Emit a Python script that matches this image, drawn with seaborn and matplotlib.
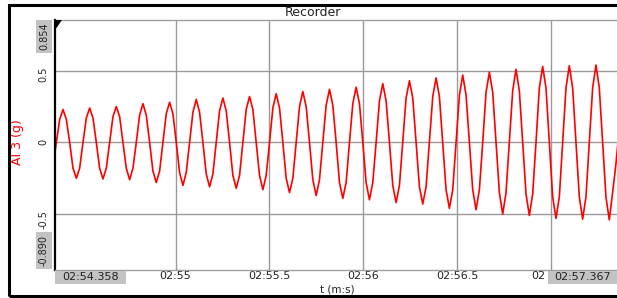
# Recorder trace: AI 3 (g) vs time
import numpy as np
import matplotlib
matplotlib.use("Agg")
import matplotlib.pyplot as plt
from matplotlib.patches import Rectangle, Polygon
import seaborn as sns

# sampled trace (seconds since 00:00, fixed sample interval)
t_start = 174.3474
sample_dt = 0.01774
ai3 = [-0.17,
       0.00, 0.16, 0.23, 0.16, 0.00, -0.18, -0.25, -0.18,
       0.00, 0.17, 0.24, 0.17, 0.00, -0.18, -0.255, -0.18,
       0.00, 0.18, 0.25, 0.18, 0.00, -0.18, -0.26, -0.18,
       0.00, 0.19, 0.27, 0.19, 0.00, -0.20, -0.28, -0.20,
       0.00, 0.20, 0.28, 0.20, 0.00, -0.21, -0.30, -0.21,
       0.00, 0.21, 0.30, 0.21, 0.00, -0.22, -0.31, -0.22,
       0.00, 0.22, 0.31, 0.22, 0.00, -0.23, -0.32, -0.23,
       0.00, 0.23, 0.32, 0.23, 0.00, -0.23, -0.33, -0.23,
       0.00, 0.24, 0.34, 0.24, 0.00, -0.25, -0.35, -0.25,
       0.00, 0.25, 0.355, 0.25, 0.00, -0.26, -0.37, -0.26,
       0.00, 0.26, 0.37, 0.26, 0.00, -0.28, -0.39, -0.28,
       0.00, 0.27, 0.385, 0.27, 0.00, -0.28, -0.40, -0.28,
       0.00, 0.29, 0.41, 0.29, 0.00, -0.30, -0.42, -0.30,
       0.00, 0.31, 0.43, 0.31, 0.00, -0.31, -0.43, -0.31,
       0.00, 0.32, 0.45, 0.32, 0.00, -0.33, -0.46, -0.33,
       0.00, 0.33, 0.47, 0.33, 0.00, -0.33, -0.47, -0.33,
       0.00, 0.35, 0.49, 0.35, 0.00, -0.35, -0.50, -0.35,
       0.00, 0.36, 0.51, 0.36, 0.00, -0.36, -0.51, -0.36,
       0.00, 0.38, 0.53, 0.38, 0.00, -0.38, -0.53, -0.38,
       0.00, 0.38, 0.535, 0.38, 0.00, -0.38, -0.535, -0.38,
       0.00, 0.38, 0.54, 0.38, 0.00, -0.38, -0.54, -0.35,
       -0.15, 0.10]
t = t_start + sample_dt * np.arange(len(ai3))

t_min, t_max = 174.358, 177.367
t_min_label, t_max_label = "02:54.358", "02:57.367"
y_min, y_max = -0.890, 0.854
x_ticks = [175.0, 175.5, 176.0, 176.5, 177.0]
# last tick label is mostly hidden behind the end-time box, only "02" shows
x_tick_labels = ["02:55", "02:55.5", "02:56", "02:56.5", ""]
y_ticks = [0.5, 0.0, -0.5]
y_tick_labels = ["0.5", "0", "-0.5"]

plt.rcParams["axes.unicode_minus"] = False
TXT = "#222222"
GREY_BOX = "#c3c3c3"

W, H = 617, 298
fig = plt.figure(figsize=(W / 100, H / 100), dpi=100)
ax = fig.add_axes([55 / W, 1 - 270 / H, (620 - 55) / W, (270 - 20) / H])

sns.lineplot(x=t, y=ai3, ax=ax, color="#ff0000", linewidth=1.2, estimator=None, sort=False)

ax.set_xlim(t_min, t_max)
ax.set_ylim(y_min, y_max)
ax.set_xticks(x_ticks)
ax.set_xticklabels(x_tick_labels)
ax.set_yticks(y_ticks)
ax.set_yticklabels(y_tick_labels)

ax.tick_params(axis="both", length=0, colors=TXT)
ax.tick_params(axis="x", pad=1, labelsize=8)
ax.tick_params(axis="y", labelrotation=90, pad=5, labelsize=7)
ax.grid(True, color="#9a9a9a", linewidth=1.0)
ax.set_axisbelow(True)

ax.spines["left"].set_color("black")
ax.spines["left"].set_linewidth(1.6)
for s in ["bottom", "top", "right"]:
    ax.spines[s].set_color("#a0a0a0")
    ax.spines[s].set_linewidth(1.0)

ax.set_xlabel("")
fig.text(337 / W, 1 - 284 / H, "t (m:s)", fontsize=7.5, color=TXT,
         ha="center", va="top")
fig.text(18 / W, 1 - 142 / H, "AI 3 (g)", rotation=90, color="#ff0000",
         fontsize=9, ha="center", va="center")
fig.text(313 / W, 1 - 12 / H, "Recorder", fontsize=9, color=TXT,
         ha="center", va="center")
fig.text(538 / W, 1 - 271 / H, "02", fontsize=8, color=TXT,
         ha="center", va="top")


def grey_box(x0, y0, x1, y1):
    fig.patches.append(Rectangle((x0 / W, 1 - y1 / H), (x1 - x0) / W, (y1 - y0) / H,
                                 transform=fig.transFigure, facecolor=GREY_BOX,
                                 edgecolor="none", zorder=4))


# grey boxes with the visible range limits
grey_box(55, 271, 126, 284)
fig.text(90.5 / W, 1 - 277.5 / H, t_min_label, fontsize=8, color=TXT,
         ha="center", va="center", zorder=5)
grey_box(548, 271, 625, 284)
fig.text(583 / W, 1 - 277.5 / H, t_max_label, fontsize=8, color=TXT,
         ha="center", va="center", zorder=5)
grey_box(36, 20, 52, 53)
fig.text(44 / W, 1 - 36.5 / H, "%.3f" % y_max, rotation=90, fontsize=7,
         color=TXT, ha="center", va="center", zorder=5)
grey_box(36, 232, 52, 269)
fig.text(44 / W, 1 - 250.5 / H, "%.3f" % y_min, rotation=90, fontsize=7,
         color=TXT, ha="center", va="center", zorder=5)

# corner marker and outer frame
tri = [(55, 20), (62, 20), (55, 30)]
fig.patches.append(Polygon([(x / W, 1 - y / H) for x, y in tri], closed=True,
                           transform=fig.transFigure, facecolor="black",
                           edgecolor="none", zorder=6))
fig.patches.append(Rectangle((9 / W, 1 - 296 / H), (640 - 9) / W, (296 - 5) / H,
                             transform=fig.transFigure, fill=False,
                             edgecolor="black", linewidth=2.2, zorder=6))

fig.savefig("out.png", dpi=100)
